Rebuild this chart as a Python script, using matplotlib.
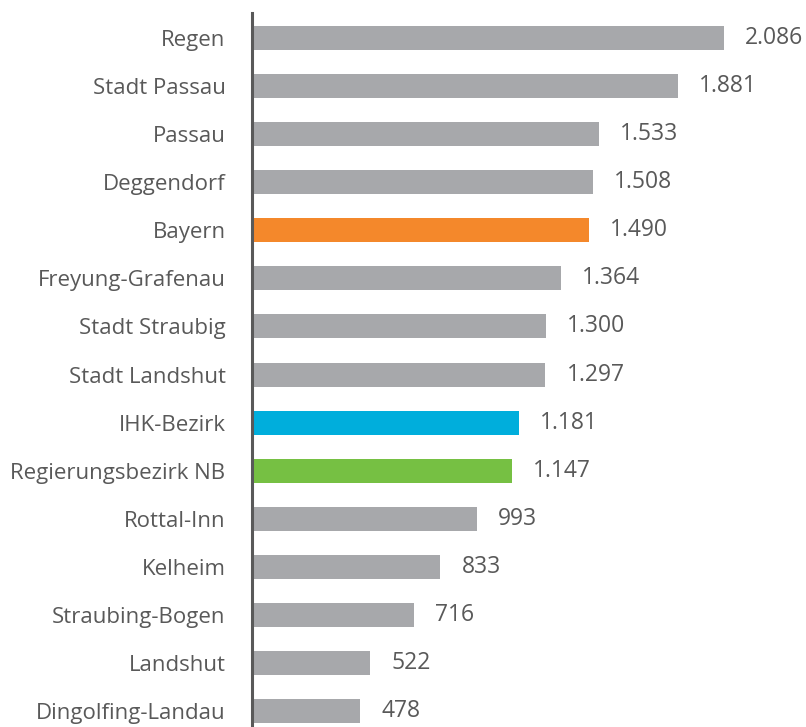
import matplotlib
matplotlib.use("Agg")
import matplotlib.pyplot as plt

regions = ["Regen", "Stadt Passau", "Passau", "Deggendorf", "Bayern",
           "Freyung-Grafenau", "Stadt Straubig", "Stadt Landshut", "IHK-Bezirk",
           "Regierungsbezirk NB", "Rottal-Inn", "Kelheim", "Straubing-Bogen",
           "Landshut", "Dingolfing-Landau"]
values = [2086, 1881, 1533, 1508, 1490, 1364, 1300, 1297, 1181, 1147,
          993, 833, 716, 522, 478]
value_labels = ["2.086", "1.881", "1.533", "1.508", "1.490", "1.364", "1.300",
                "1.297", "1.181", "1.147", "993", "833", "716", "522", "478"]

GREY = "#a7a8ab"
highlight = {"Bayern": "#f4882b", "IHK-Bezirk": "#00aedc",
             "Regierungsbezirk NB": "#76c043"}
colors = [highlight.get(r, GREY) for r in regions]

TEXT = "#595959"
plt.rcParams["font.family"] = ["Open Sans", "DejaVu Sans"]

W, H = 806, 727
fig = plt.figure(figsize=(W / 100, H / 100), dpi=100)
left_px = 252
ax = fig.add_axes([left_px / W, 0, (W - left_px) / W, 1])

scale = 472 / 2086  # pixels per unit
ax.set_xlim(0, (W - left_px) / scale)
row_px = 48.08
top_px = 38
ax.set_ylim((H - top_px) / row_px, -top_px / row_px)

ypos = list(range(len(regions)))
ax.barh(ypos, values, height=0.5, color=colors, zorder=2)

for y, v, lab in zip(ypos, values, value_labels):
    ax.text(v + 21 / scale, y, lab, ha="left", va="center",
            fontsize=16.5, color=TEXT)

ax.set_yticks(ypos)
ax.set_yticklabels(regions, fontsize=16, color=TEXT)
ax.tick_params(axis="y", length=0, pad=19)
ax.set_xticks([])

for side in ["top", "right", "bottom"]:
    ax.spines[side].set_visible(False)
ax.spines["left"].set_color("#595959")
ax.spines["left"].set_linewidth(2.2)
ax.spines["left"].set_bounds((H - top_px) / row_px, (13 - top_px) / row_px)

fig.savefig("out.png", dpi=100)
